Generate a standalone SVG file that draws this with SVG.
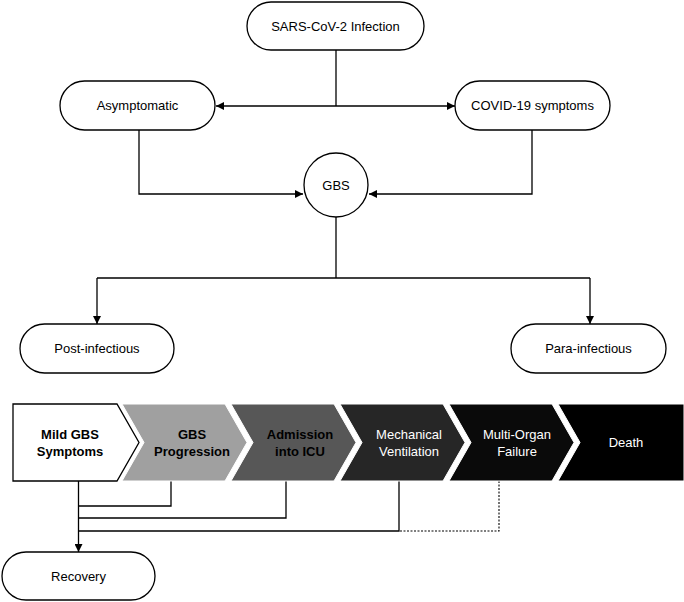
<svg xmlns="http://www.w3.org/2000/svg" width="684" height="602" viewBox="0 0 684 602">
<style>
.n{fill:#fff;stroke:#000;stroke-width:1.3}
.t{font-family:"Liberation Sans",Arial,sans-serif;font-size:13px;text-anchor:middle;fill:#000}
.c{fill:none;stroke:#000;stroke-width:1.3}
.d{fill:none;stroke:#000;stroke-width:1.1;stroke-dasharray:2,1.5}
.b{font-weight:bold}
.w{fill:#fff}
.ch{stroke:#fff;stroke-width:1}
</style>
<defs>
<marker id="a" viewBox="0 0 10 10" refX="10" refY="5" markerWidth="8" markerHeight="8" markerUnits="userSpaceOnUse" orient="auto">
<path d="M0,0 L10,5 L0,10 z" fill="#000"/>
</marker>
</defs>
<g id="connectors">
<path class="c" d="M336,50 V106"/>
<path class="c" d="M336,106 H216" marker-end="url(#a)"/>
<path class="c" d="M336,106 H455" marker-end="url(#a)"/>
<path class="c" d="M139,130 V194 H303" marker-end="url(#a)"/>
<path class="c" d="M532,130 V194 H369" marker-end="url(#a)"/>
<path class="c" d="M336,217 V278"/>
<path class="c" d="M97,278 H590"/>
<path class="c" d="M97,278 V324" marker-end="url(#a)"/>
<path class="c" d="M590,278 V324" marker-end="url(#a)"/>
<path class="c" d="M78.5,481 V552" marker-end="url(#a)"/>
<path class="c" d="M171,481 V506 H78.5"/>
<path class="c" d="M286,481 V518 H78.5"/>
<path class="c" d="M399,481 V531 H78.5"/>
<path class="d" d="M499,481 V531 H399"/>
</g>
<g id="sars">
<rect class="n" x="247" y="2" width="177" height="48" rx="24"/>
<text class="t" x="335.5" y="30.5">SARS-CoV-2 Infection</text>
</g>
<g id="asymptomatic">
<rect class="n" x="60" y="81" width="155" height="49" rx="24.5"/>
<text class="t" x="137.5" y="110">Asymptomatic</text>
</g>
<g id="covid">
<rect class="n" x="455" y="81" width="155" height="49" rx="24.5"/>
<text class="t" x="532.5" y="110">COVID-19 symptoms</text>
</g>
<g id="gbs">
<circle class="n" cx="336" cy="185" r="32"/>
<text class="t" x="336" y="190">GBS</text>
</g>
<g id="post">
<rect class="n" x="20" y="324" width="154" height="49" rx="24.5"/>
<text class="t" x="97" y="353">Post-infectious</text>
</g>
<g id="para">
<rect class="n" x="511" y="324" width="155" height="49" rx="24.5"/>
<text class="t" x="588.5" y="353">Para-infectious</text>
</g>
<g id="mild">
<path d="M13,404 H117 L139,442.5 L117,481 H13 z" fill="#fff" stroke="#000" stroke-width="1.3"/>
<text class="t b" x="70" y="439">Mild GBS</text>
<text class="t b" x="70" y="456">Symptoms</text>
</g>
<g id="progression">
<path class="ch" d="M122,404 H225 L247,442.5 L225,481 H122 L144,442.5 z" fill="#a0a0a0"/>
<text class="t b" x="192" y="439" fill="#1a1a1a">GBS</text>
<text class="t b" x="192" y="456" fill="#1a1a1a">Progression</text>
</g>
<g id="icu">
<path class="ch" d="M231,404 H334 L356,442.5 L334,481 H231 L253,442.5 z" fill="#575757"/>
<text class="t b" x="300" y="439">Admission</text>
<text class="t b" x="300" y="456">into ICU</text>
</g>
<g id="ventilation">
<path class="ch" d="M340,404 H443 L465,442.5 L443,481 H340 L362,442.5 z" fill="#262626"/>
<text class="t w" x="409" y="439">Mechanical</text>
<text class="t w" x="409" y="456">Ventilation</text>
</g>
<g id="mof">
<path class="ch" d="M449,404 H552 L574,442.5 L552,481 H449 L471,442.5 z" fill="#0a0a0a"/>
<text class="t w" x="517" y="439">Multi-Organ</text>
<text class="t w" x="517" y="456">Failure</text>
</g>
<g id="death">
<path class="ch" d="M558,404 H684 V481 H558 L580,442.5 z" fill="#000"/>
<text class="t w" x="626" y="447">Death</text>
</g>
<g id="recovery">
<rect class="n" x="2" y="552" width="153" height="48" rx="24"/>
<text class="t" x="78.5" y="580.5">Recovery</text>
</g>
</svg>
